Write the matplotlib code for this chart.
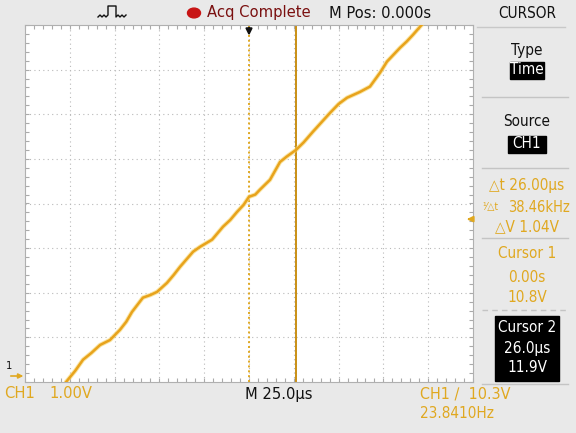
import matplotlib
matplotlib.use("Agg")
import matplotlib.pyplot as plt
from matplotlib.patches import Rectangle, Circle
import numpy as np

W, H = 576, 433
BG = "#e9e9e9"; INK = "#111111"; TRACE = "#e8a31c"; ORANGE = "#e0a820"
CUR2 = "#c98f14"; GRIDC = "#b9b9b9"; RED = "#c81414"

plt.rcParams["font.family"] = ["DejaVu Sans"]
plt.rcParams["font.stretch"] = "condensed"

# trace: time (us) vs voltage (V)
t_us = [-102.1, -97.0, -92.6, -88.0, -83.1, -77.6, -72.0, -68.5, -65.3, -59.2,
        -55.0, -51.3, -45.8, -42.0, -38.5, -31.2, -27.3, -20.6, -14.5, -10.5,
        -6.7, -3.0, 0.0, 3.5, 6.1, 11.7, 14.5, 17.3, 21.0, 26.2, 30.5, 35.7,
        40.0, 45.2, 50.0, 54.7, 61.9, 67.5, 73.1, 77.0, 84.3, 88.0, 91.5, 96.5]
volts = [6.65, 6.90, 7.15, 7.30, 7.48, 7.59, 7.82, 8.00, 8.22, 8.54,
         8.60, 8.67, 8.87, 9.05, 9.23, 9.57, 9.68, 9.84, 10.13, 10.28,
         10.46, 10.62, 10.80, 10.85, 10.96, 11.18, 11.38, 11.58, 11.70, 11.85, 12.02, 12.26,
         12.45, 12.68, 12.88, 13.02, 13.15, 13.27, 13.58, 13.83, 14.14, 14.28, 14.43, 14.66]

cursor_t = [0.0, 26.0]
trig_level = 10.3
v_bottom = 6.65          # screen bottom in volts (1 V/div, 8 div)
t_left = -125.0          # 25 us/div, 10 div

fig = plt.figure(figsize=(W / 100, H / 100), dpi=100, facecolor=BG)

def px(x, y):
    return x / W, 1 - y / H

def label(x, y, s, color=INK, size=10, ha="left", **kw):
    fig.text(*px(x, y), s, color=color, fontsize=size, ha=ha, va="center", **kw)

def fig_line(xs, ys, **kw):
    fig.lines.append(plt.Line2D([x / W for x in xs], [1 - y / H for y in ys],
                                transform=fig.transFigure, **kw))

# scope screen
L, T, R, B = 25, 25, 473, 382
ax = fig.add_axes([L / W, 1 - B / H, (R - L) / W, (B - T) / H])
ax.set_facecolor("white")
ax.set_xlim(t_left, t_left + 250)
ax.set_ylim(v_bottom, v_bottom + 8)
for k in range(1, 10):
    ax.axvline(t_left + 25 * k, color=GRIDC, lw=0.8, ls=(0, (1, 3)), zorder=1)
for k in range(1, 8):
    ax.axhline(v_bottom + k, color=GRIDC, lw=0.8, ls=(0, (1, 3)), zorder=1)
ax.set_xticks(np.arange(t_left, t_left + 251, 5))
ax.set_yticks(np.arange(v_bottom, v_bottom + 8.01, 0.2))
ax.tick_params(direction="in", length=3, color="#aaaaaa", top=True, right=True,
               labelbottom=False, labelleft=False)
for s in ax.spines.values():
    s.set_color("#b0b0b0"); s.set_linewidth(0.8)

ax.axvline(cursor_t[0], color=ORANGE, lw=1.4, ls=(0, (1, 1.5)), zorder=2)
ax.axvline(cursor_t[1], color=CUR2, lw=1.4, zorder=2)
ax.plot(t_us, volts, color="#f6d56a", lw=3.2, alpha=0.6, zorder=3, solid_capstyle="round")
ax.plot(t_us, volts, color=TRACE, lw=1.8, zorder=4, solid_joinstyle="round")

# trigger position arrow + trigger level marker
ax.annotate("", xy=(0, v_bottom + 7.7), xytext=(0, v_bottom + 8.0),
            arrowprops=dict(arrowstyle="-|>", color=INK, lw=1.5, mutation_scale=9),
            annotation_clip=False, zorder=6)
ax.annotate("", xy=(t_left + 245, trig_level), xytext=(t_left + 250, trig_level),
            arrowprops=dict(arrowstyle="-|>", color=ORANGE, lw=1.5, mutation_scale=8),
            annotation_clip=False, zorder=6)

# top bar: pulse icon drawn as a shape
fig_line([98, 100, 102, 104, 106, 108, 108, 116, 116, 118, 120, 122, 124, 126],
         [17, 15, 17, 15, 17, 15, 6, 6, 17, 15, 17, 15, 17, 15], color=INK, lw=1)
fig.patches.append(Circle(px(194, 13), 6.5 / W, transform=fig.transFigure,
                          color=RED, zorder=5))
label(207, 13, "Acq Complete", color="#7a1010", size=11.8)
label(329, 13, "M Pos: 0.000s", size=11.8)
label(527, 13, "CURSOR", size=11, ha="center")
fig_line([477, 565], [27, 27], color="#c8c8c8", lw=1)

# right panel
def box(x0, y0, x1, y1):
    fig.patches.append(Rectangle(px(x0, y1), (x1 - x0) / W, (y1 - y0) / H,
                                 transform=fig.transFigure, color="black", zorder=3))

def sep(y, ls="-"):
    fig_line([482, 568], [y, y], color="#c4c4c4", lw=1, ls=ls)

FS = 11
label(527, 50, "Type", size=FS, ha="center")
box(510, 62, 544, 79)
label(527, 70, "Time", color="white", size=FS, ha="center")
sep(97)
label(527, 122, "Source", size=FS, ha="center")
box(508, 136, 546, 153)
label(527, 144, "CH1", color="white", size=FS, ha="center")
sep(168)
label(527, 185, "\u25b3t 26.00\u00b5s", color=ORANGE, size=FS, ha="center")
label(482, 207, "\u00b9\u2044\u25b3t", color=ORANGE, size=7.5, ha="left")
label(570, 207, "38.46kHz", color=ORANGE, size=10.5, ha="right")
label(527, 227, "\u25b3V 1.04V", color=ORANGE, size=FS, ha="center")
sep(238)
label(527, 253, "Cursor 1", color=ORANGE, size=FS, ha="center")
label(527, 277, "0.00s", color=ORANGE, size=FS, ha="center")
label(527, 298, "10.8V", color=ORANGE, size=FS, ha="center")
sep(310, ls=(0, (4, 3)))
box(495, 316, 559, 381)
label(527, 328, "Cursor 2", color="white", size=FS, ha="center")
label(527, 348, "26.0\u00b5s", color="white", size=FS, ha="center")
label(527, 368, "11.9V", color="white", size=FS, ha="center")
sep(384)

# ground marker
label(6, 366, "1", size=8)
ax.annotate("", xy=(L / W + 0.002, 1 - 376 / H), xycoords="figure fraction",
            xytext=(8 / W, 1 - 376 / H), textcoords="figure fraction",
            arrowprops=dict(arrowstyle="-|>", color=ORANGE, lw=1.2, mutation_scale=7),
            annotation_clip=False)

# bottom bar
label(4, 394, "CH1", color=ORANGE, size=11.8)
label(49, 394, "1.00V", color=ORANGE, size=11.8)
label(245, 394, "M 25.0\u00b5s", size=11.8)
label(420, 394, "CH1 \u2215  10.3V", color=ORANGE, size=11.5)
label(420, 414, "23.8410Hz", color=ORANGE, size=11)

fig.savefig("out.png", dpi=100, facecolor=BG)
